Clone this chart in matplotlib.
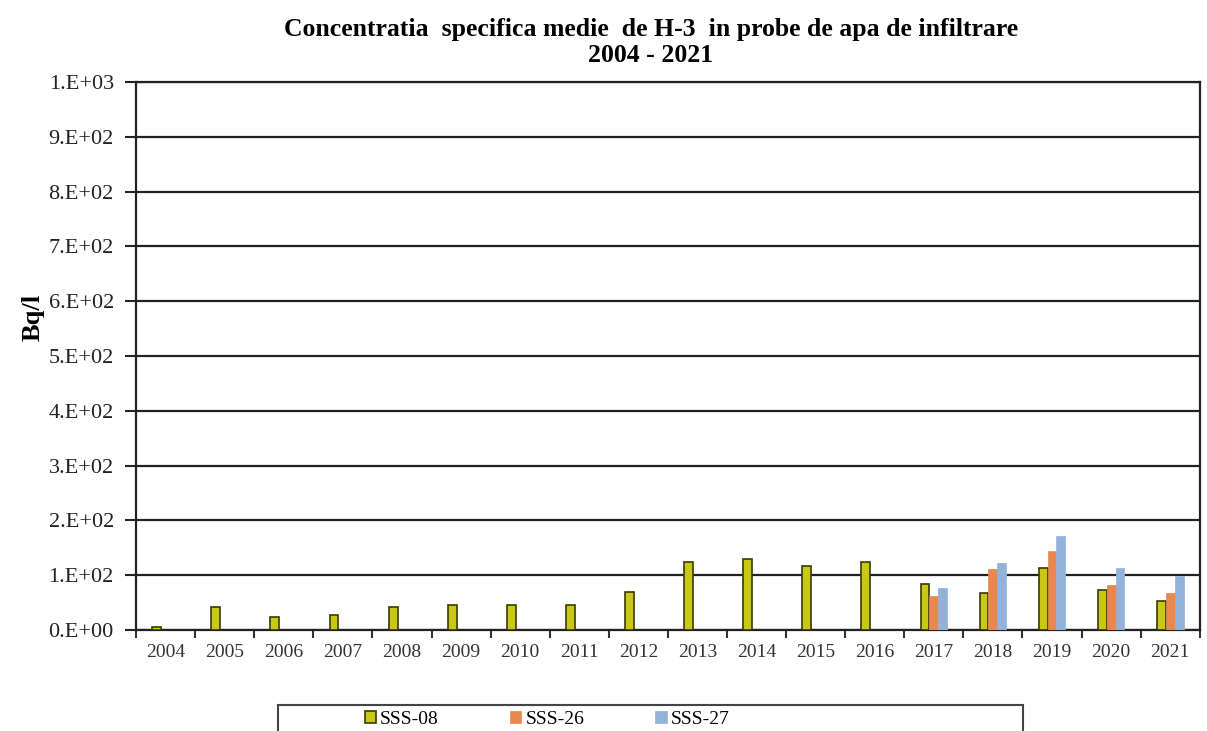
import numpy as np
import matplotlib.pyplot as plt
from matplotlib.patches import Rectangle

years = ['2004', '2005', '2006', '2007', '2008', '2009', '2010', '2011', '2012',
         '2013', '2014', '2015', '2016', '2017', '2018', '2019', '2020', '2021']

# Bq/l
sss08 = [5, 42, 24, 27, 42, 45, 45, 45, 70, 125, 130, 117, 125, 84, 68, 113, 74, 53]
sss26 = [np.nan] * 13 + [62, 111, 144, 82, 68]
sss27 = [np.nan] * 13 + [77, 123, 172, 113, 98]

plt.rcParams['font.family'] = ['Liberation Serif', 'DejaVu Serif']

fig = plt.figure(figsize=(12.07, 7.31), dpi=100)
ax = fig.add_axes([0.1127, 0.138, 0.8813, 0.75])

x = np.arange(len(years))
w = 0.15
ax.bar(x - w, sss08, w, color='#c9c814', edgecolor='#3a3a00', linewidth=1.2, label='SSS-08', zorder=3)
ax.bar(x, sss26, w, color='#e8874f', edgecolor='#e8874f', linewidth=0.5, label='SSS-26', zorder=3)
ax.bar(x + w, sss27, w, color='#92b2da', edgecolor='#92b2da', linewidth=0.5, label='SSS-27', zorder=3)

ax.set_ylim(0, 1000)
ax.set_xlim(-0.5, len(years) - 0.5)
ax.set_yticks(np.arange(0, 1001, 100))
ax.set_yticklabels(['0.E+00', '1.E+02', '2.E+02', '3.E+02', '4.E+02', '5.E+02',
                    '6.E+02', '7.E+02', '8.E+02', '9.E+02', '1.E+03'], fontsize=16, color='#222222')
ax.yaxis.grid(True, color='#222222', linewidth=1.6, zorder=0)
ax.set_axisbelow(True)

ax.set_xticks(x)
ax.set_xticklabels(years, fontsize=14, color='#333333')
ax.set_xticks(np.arange(-0.5, len(years), 1), minor=True)
ax.tick_params(axis='x', which='major', length=0, pad=10)
ax.tick_params(axis='x', which='minor', length=6, width=1.5, color='#333333', direction='out')
ax.tick_params(axis='y', length=8, width=1.5, color='#222222', direction='out', pad=8)

for s in ax.spines.values():
    s.set_color('#222222')
    s.set_linewidth(1.6)

ax.set_ylabel('Bq/l', fontsize=19, fontweight='bold')
ax.yaxis.set_label_coords(-0.0855, 0.57)

fig.suptitle('Concentratia  specifica medie  de H-3  in probe de apa de infiltrare\n2004 - 2021',
             fontsize=18.5, fontweight='bold', y=0.975, x=0.539, linespacing=1.15)

# cadrul legendei
fig.patches.append(Rectangle((278 / 1207, -0.01), 745 / 1207, 0.046, transform=fig.transFigure,
                             fill=False, edgecolor='#444444', linewidth=1.5))
fig.legend(loc='center left', bbox_to_anchor=(0.2875, 0.016), ncol=3, fontsize=14,
           frameon=False, handlelength=0.6, handleheight=0.6, handletextpad=0.2,
           columnspacing=3.65)

plt.savefig('out.png', dpi=100)
